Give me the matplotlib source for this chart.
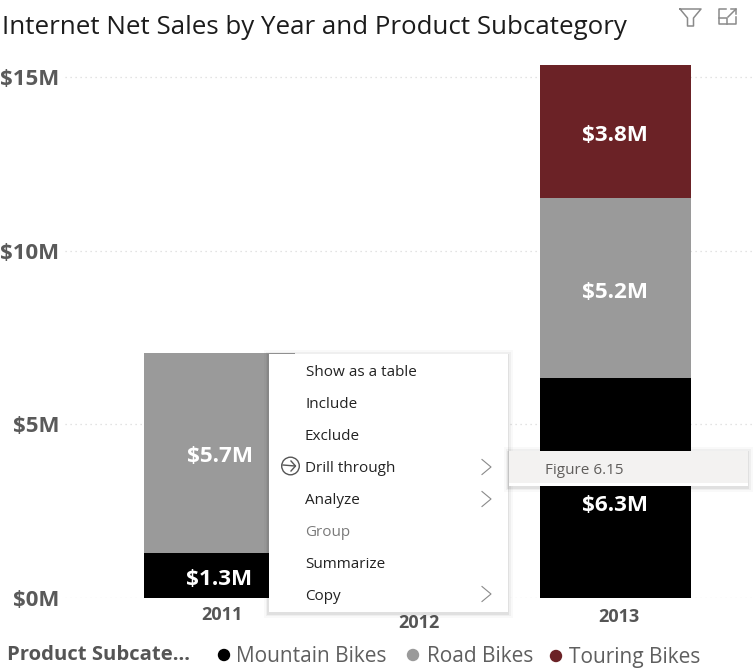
import matplotlib
matplotlib.use("Agg")
import matplotlib.pyplot as plt
from matplotlib.patches import Rectangle, Circle
from matplotlib.ticker import FuncFormatter

plt.rcParams['font.family'] = ['Open Sans', 'DejaVu Sans']

years = ['2011', '2012', '2013']
series = ['Mountain Bikes', 'Road Bikes', 'Touring Bikes']
colors = ['#000000', '#9a9a9a', '#6b2226']
mountain = [1.3, 0, 6.33]
road = [5.75, 0, 5.19]
touring = [0, 0, 3.83]
label_mountain = ['$1.3M', None, '$6.3M']
label_road = ['$5.7M', None, '$5.2M']
label_touring = [None, None, '$3.8M']
yticks = [0, 5, 10, 15]
menu_items = ['Show as a table', 'Include', 'Exclude', 'Drill through', 'Analyze', 'Group', 'Summarize', 'Copy']
menu_y = [373, 405, 437, 469, 501, 533, 564.5, 596]
menu_x = [306, 306, 305, 305, 305, 305, 305, 305]
submenu_rows = ['Drill through', 'Analyze', 'Copy']

W, H = 753, 672
fig = plt.figure(figsize=(W/100, H/100), dpi=100, facecolor='white')

def px_axes(l, t, r, b):
    return [l/W, 1-b/H, (r-l)/W, (b-t)/H]

ax = fig.add_axes(px_axes(65, 40, 753, 598))
ax.set_facecolor('none')
step = 197.75
ax.set_xlim((65-219.5)/step, (753-219.5)/step)
ppu = (598-77)/15
ax.set_ylim(0, (598-40)/ppu)
xs = list(range(3))
bw = 151/step
bottom = [0, 0, 0]
for vals, c in zip([mountain, road, touring], colors):
    ax.bar(xs, vals, bottom=bottom, width=bw, color=c, zorder=3, linewidth=0)
    bottom = [b+v for b, v in zip(bottom, vals)]

ax.set_yticks(yticks)
ax.yaxis.set_major_formatter(FuncFormatter(lambda v, p: f'${int(v)}M'))
ax.tick_params(axis='y', length=0, pad=4, labelsize=16, labelcolor='#5a5a5a')
for t in ax.get_yticklabels():
    t.set_fontweight('bold')
ax.grid(axis='y', color='#dadada', linestyle=(0, (1, 3)), linewidth=0.9, zorder=0)
ax.set_axisbelow(True)
for s in ax.spines.values():
    s.set_visible(False)

# value labels; the lowest 2013 label sits below the submenu in the screenshot
tops = [0, 0, 0]
for vals, labs in zip([mountain, road, touring], [label_mountain, label_road, label_touring]):
    for i, (v, l) in enumerate(zip(vals, labs)):
        if l:
            dy = -17 if l == '$6.3M' else -4
            ax.annotate(l, (i, tops[i]+v/2), xytext=(0, dy), textcoords='offset pixels', ha='center', va='center',
                        color='white', fontsize=16.2, fontweight='bold', zorder=5)
        tops[i] += v

# category labels, slightly scattered as in the screenshot
ax.set_xticks(xs)
ax.set_xticklabels(['', '', ''])
ax.tick_params(axis='x', length=0)
offs = [(2.5, -17), (1.5, -25), (3.5, -19)]
tr = ax.get_xaxis_transform()
for i, y in enumerate(years):
    ax.annotate(y, (i, 0), xycoords=tr, xytext=offs[i], textcoords='offset pixels', ha='center', va='center',
                fontsize=13, fontweight='bold', color='#555555', zorder=2)

# overlay in pixel coordinates
ov = fig.add_axes([0, 0, 1, 1], facecolor='none')
ov.set_xlim(0, W); ov.set_ylim(H, 0); ov.axis('off')

ov.text(2, 27, 'Internet Net Sales by Year and Product Subcategory', fontsize=18.6, color='#1c1c1c', ha='left', va='center')

# header icons
ic = '#8a8a8a'
ov.plot([680, 701, 693.5, 693.5, 687.5, 687.5, 680], [9, 9, 18, 26, 26, 18, 9], color=ic, lw=1.1)
ov.plot([726, 719, 719, 736, 736], [9, 9, 24, 24, 17], color=ic, lw=1.1)
ov.plot([719, 727, 727], [18, 18, 24], color=ic, lw=1.1)
ov.plot([728, 736], [17, 9], color=ic, lw=1.1)
ov.plot([731, 736, 736], [9, 9, 14], color=ic, lw=1.1)

# context menu
def shadowed(l, t, r, b, fc, z):
    for g, a in [(5, .025), (3, .04), (1.5, .06)]:
        ov.add_patch(Rectangle((l-g, t-g+1), r-l+2*g, b-t+2*g, fc='black', alpha=a, lw=0, zorder=z))
    ov.add_patch(Rectangle((l, t), r-l, b-t, fc=fc, lw=0, zorder=z+.1))

shadowed(269, 354, 508, 612, 'white', 6)
for name, x, y in zip(menu_items, menu_x, menu_y):
    col = '#7a7a7a' if name == 'Group' else '#222222'
    ov.text(x, y, name, fontsize=11, color=col, ha='left', va='center', zorder=7)
    if name in submenu_rows:
        ov.plot([482, 491, 482], [y-9.5, y-2, y+5.5], color='#8a8a8a', lw=0.8, zorder=7)
ov.add_patch(Circle((290.5, 466), 8.8, fc='none', ec='#555555', lw=1, zorder=7))
ov.plot([283, 295], [465, 466], color='#555555', lw=1, zorder=7)
ov.plot([291, 295.5, 291], [461, 466, 471], color='#555555', lw=1, zorder=7)

shadowed(509, 451, 748, 486, '#f3f2f1', 8)
ov.add_patch(Rectangle((509, 483), 239, 3, fc='white', lw=0, zorder=8.2))
ov.text(545, 470, 'Figure 6.15', fontsize=11, color='#605e5c', ha='left', va='center', zorder=9)

# legend
ov.text(7, 655, 'Product Subcate...', fontsize=14.6, fontweight='bold', color='#555555', ha='left', va='center')
leg_dot = [(224, 655), (413, 655), (556, 656)]
leg_txt = [(236, 656), (427, 656), (569, 657)]
for s, c, d, t in zip(series, colors, leg_dot, leg_txt):
    ov.add_patch(Circle(d, 6.2, fc=c, lw=0))
    ov.text(t[0], t[1], s, fontsize=15, color='#5f5f5f', ha='left', va='center')

fig.savefig('out.png', dpi=100)
